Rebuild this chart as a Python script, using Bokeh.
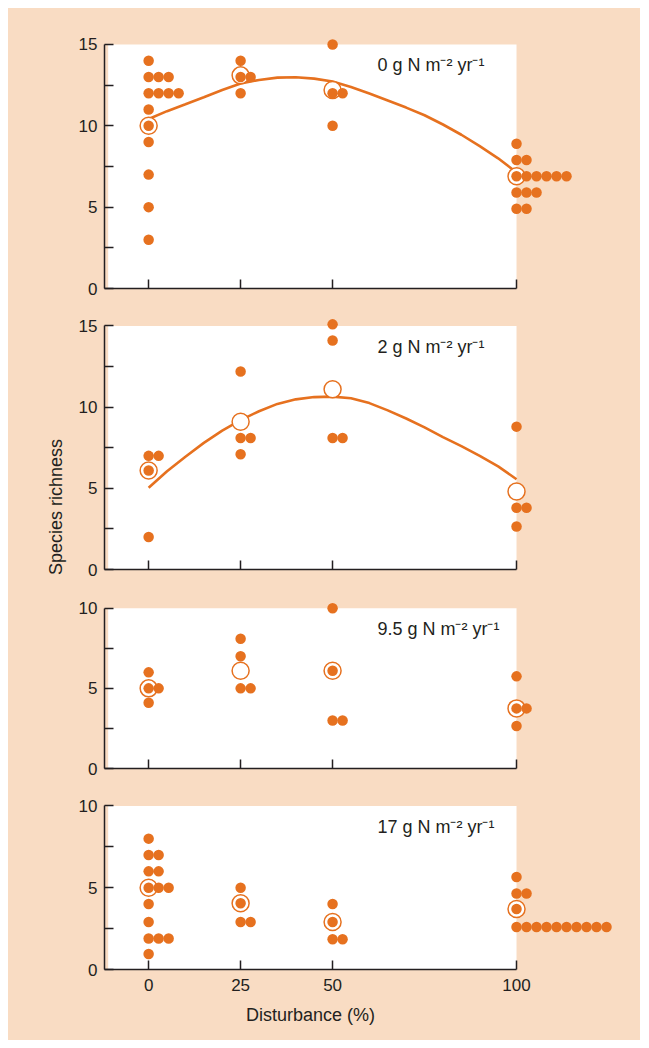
import math
from bokeh.plotting import figure
from bokeh.models import Range1d, FixedTicker, BoxAnnotation, Label
from bokeh.layouts import column, row
from bokeh.embed import file_html
from bokeh.resources import INLINE

# ---------------- data ----------------
disturbance = [0, 25, 50, 100]
tick_labels = ["0", "25", "50", "100"]
panel_labels = ["0 g N m\u207b\u00b2 yr\u207b\u00b9", "2 g N m\u207b\u00b2 yr\u207b\u00b9",
                "9.5 g N m\u207b\u00b2 yr\u207b\u00b9", "17 g N m\u207b\u00b2 yr\u207b\u00b9"]
y_axis_max = [15, 15, 10, 10]

# species richness of individual plots, one list per disturbance level
rich_0g = [[14, 13, 13, 13, 12, 12, 12, 12, 11, 10, 9, 7, 5, 3],
           [14, 13, 13, 12],
           [15, 12, 12, 10],
           [8.9, 7.9, 7.9, 6.9, 6.9, 6.9, 6.9, 6.9, 6.9, 5.9, 5.9, 5.9, 4.9, 4.9]]
rich_2g = [[7, 7, 6.1, 2],
           [12.2, 8.1, 8.1, 7.1],
           [15.1, 14.1, 8.1, 8.1],
           [8.8, 3.8, 3.8, 2.65]]
rich_9g = [[6, 5, 5, 4.1],
           [8.1, 7, 5, 5],
           [10, 6.1, 3, 3],
           [5.75, 3.75, 3.75, 2.65]]
rich_17g = [[8, 7, 7, 6, 6, 5, 5, 5, 4, 2.9, 1.9, 1.9, 1.9, 0.95],
            [5, 4.05, 2.9, 2.9],
            [4, 2.9, 1.85, 1.85],
            [5.65, 4.65, 4.65, 3.7, 2.6, 2.6, 2.6, 2.6, 2.6, 2.6, 2.6, 2.6, 2.6, 2.6]]

# mean richness (open circles)
mean_0g = [10.0, 13.1, 12.2, 6.9]
mean_2g = [6.1, 9.1, 11.1, 4.8]
mean_9g = [5.0, 6.1, 6.1, 3.75]
mean_17g = [5.0, 4.05, 2.9, 3.7]

# fitted curves
curve_x = [0, 5, 10, 15, 20, 25, 30, 35, 40, 45, 50, 55, 60, 65, 70, 75, 80, 85, 90, 95, 100]
curve_0g = [10.42, 10.9, 11.32, 11.75, 12.2, 12.6, 12.82, 12.96, 12.98, 12.9, 12.72,
            12.38, 11.98, 11.55, 11.12, 10.65, 10.08, 9.45, 8.75, 8.0, 7.13]
curve_2g = [5.03, 6.05, 6.95, 7.8, 8.55, 9.2, 9.75, 10.2, 10.48, 10.62, 10.65,
            10.55, 10.25, 9.8, 9.3, 8.75, 8.15, 7.6, 7.0, 6.35, 5.56]

richness = [rich_0g, rich_2g, rich_9g, rich_17g]
means = [mean_0g, mean_2g, mean_9g, mean_17g]
curves = [curve_0g, curve_2g, None, None]

# ---------------- styling / layout ----------------
ORANGE = "#E6711F"
PEACH = "#F9DCC3"
INK = "#231F20"
FONT = "Liberation Sans"

STRIP_W = 60           # left strip carrying the y title
FIG_W = 572
LEFT = 36
X_START, X_END = -12.0, 133.7
PX_X = (FIG_W - LEFT) / (X_END - X_START)
heights = [304, 281, 199, 208]
bottoms = [24, 24, 24, 31]
y_ends = [17.21, 15.83, 10.92, 10.82]
BOTTOM_H = 40
TOTAL_H = sum(heights) + BOTTOM_H
DOT_STEP = 10 / PX_X  # horizontal spacing of stacked dots


def stack(level, values):
    xs, ys = [], []
    seen = {}
    for v in values:
        k = seen.get(v, 0)
        seen[v] = k + 1
        xs.append(level + k * DOT_STEP)
        ys.append(v)
    return xs, ys


def blank(width, height, xr, yr, left=0):
    f = figure(width=width, height=height, x_range=xr, y_range=yr,
               output_backend="svg", toolbar_location=None,
               x_axis_location=None, y_axis_location=None,
               min_border_left=left, min_border_right=0, min_border_top=0, min_border_bottom=0)
    f.background_fill_color = PEACH
    f.border_fill_color = PEACH
    f.outline_line_color = None
    f.grid.visible = False
    return f


figs = []
for i in range(4):
    ymax = y_axis_max[i]
    p = figure(width=FIG_W, height=heights[i],
               x_range=Range1d(X_START, X_END), y_range=Range1d(0, y_ends[i]),
               output_backend="svg", toolbar_location=None,
               min_border_left=LEFT, min_border_right=0, min_border_top=0,
               min_border_bottom=bottoms[i])
    p.background_fill_color = PEACH
    p.border_fill_color = PEACH
    p.outline_line_color = None
    p.grid.visible = False

    p.add_layout(BoxAnnotation(left=X_START + 1.0, right=max(disturbance), bottom=0, top=ymax,
                               fill_color="white", fill_alpha=1, line_color=None,
                               level="underlay"))

    xa = p.xaxis[0]
    xa.ticker = FixedTicker(ticks=disturbance, minor_ticks=[])
    xa.major_label_overrides = {d: t for d, t in zip(disturbance, tick_labels)}
    xa.bounds = (X_START, max(disturbance))
    xa.major_tick_in = 9
    xa.major_tick_out = 0
    xa.minor_tick_in = 0
    xa.minor_tick_out = 0
    xa.axis_line_width = 1.5
    xa.axis_line_color = INK
    xa.major_tick_line_color = INK
    xa.major_tick_line_width = 1.5
    xa.major_label_text_font = FONT
    xa.major_label_text_font_size = "17px"
    if i < 3:
        xa.major_label_text_color = None
        xa.major_label_standoff = 0
    else:
        xa.major_label_text_color = INK
        xa.major_label_standoff = 9

    ya = p.yaxis[0]
    ya.ticker = FixedTicker(ticks=list(range(0, ymax + 1, 5)),
                            minor_ticks=[t + 2.5 for t in range(0, ymax, 5)])
    ya.bounds = (0, ymax)
    ya.major_tick_in = 9
    ya.major_tick_out = 0
    ya.minor_tick_in = 9
    ya.minor_tick_out = 0
    ya.axis_line_width = 1.5
    ya.axis_line_color = INK
    ya.major_tick_line_color = INK
    ya.minor_tick_line_color = INK
    ya.major_tick_line_width = 1.5
    ya.minor_tick_line_width = 1.5
    ya.major_label_text_font = FONT
    ya.major_label_text_font_size = "17px"
    ya.major_label_text_color = INK
    ya.major_label_standoff = 7

    if curves[i] is not None:
        p.line(curve_x, curves[i], line_width=2.6, line_color=ORANGE)

    p.scatter(disturbance, means[i], size=17, fill_color="white",
              line_color=ORANGE, line_width=1.5)

    xs, ys = [], []
    for lvl, vals in zip(disturbance, richness[i]):
        a, b = stack(lvl, vals)
        xs += a
        ys += b
    p.scatter(xs, ys, size=10.5, fill_color=ORANGE, line_color=None)

    px_y = (heights[i] - bottoms[i]) / y_ends[i]
    p.add_layout(Label(x=62.2, y=ymax - 21 / px_y, text=panel_labels[i],
                       text_font=FONT, text_font_size="18px", text_color=INK,
                       text_align="left", text_baseline="alphabetic"))
    figs.append(p)

# centre between the top of panel 1's axis and the bottom of panel 4's axis
top_axis = heights[0] - bottoms[0] - y_axis_max[0] * (heights[0] - bottoms[0]) / y_ends[0]
bottom_axis = sum(heights[:3]) + heights[3] - bottoms[3]
centre_from_bottom = TOTAL_H - (top_axis + bottom_axis) / 2

left_strip = blank(STRIP_W, TOTAL_H, Range1d(0, STRIP_W), Range1d(0, TOTAL_H))
left_strip.add_layout(Label(x=STRIP_W - 12.5, y=centre_from_bottom, text="Species richness",
                            angle=math.pi / 2, text_font=FONT, text_font_size="18px",
                            text_color=INK, text_align="center", text_baseline="middle"))

bottom_strip = blank(FIG_W, BOTTOM_H, Range1d(X_START, X_END), Range1d(0, BOTTOM_H), left=LEFT)
bottom_strip.add_layout(Label(x=(X_START + max(disturbance)) / 2, y=26, text="Disturbance (%)",
                              text_font=FONT, text_font_size="18px", text_color=INK,
                              text_align="center", text_baseline="alphabetic"))

layout = row(left_strip, column(*figs, bottom_strip, spacing=0), spacing=0,
             margin=(8, 0, 0, 8), styles={"background-color": PEACH})
open("out.html", "w").write(file_html(layout, INLINE))
